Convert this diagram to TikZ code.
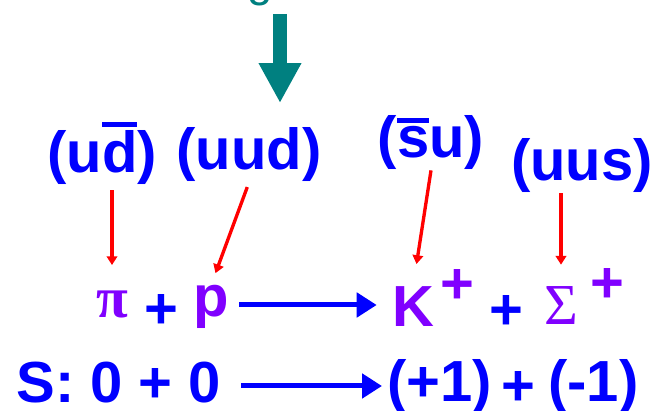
\documentclass[tikz,border=0pt]{standalone}
\usepackage{fontspec}
\setsansfont{Liberation Sans}
\newfontfamily\greekfont{Liberation Serif}
\usetikzlibrary{arrows.meta}
\definecolor{qblue}{RGB}{0,0,255}
\definecolor{qpurple}{RGB}{128,0,255}
\definecolor{qteal}{RGB}{0,128,128}
\definecolor{qred}{RGB}{255,0,0}
\newcommand{\qbar}[1]{\leavevmode\vbox{\hrule height 2.8pt\kern 2.3pt\hbox{#1}}}

\begin{document}
\begin{tikzpicture}[
    x=0.02cm, y=-0.02cm,
    lbl/.style={inner sep=0pt, anchor=base, font=\fontsize{33}{36}\selectfont\sffamily\bfseries},
    quark/.style={lbl, text=qblue},
    part/.style={lbl, text=qpurple},
    grk/.style={inner sep=0pt, anchor=base, text=qpurple, font=\fontsize{33}{36}\selectfont\greekfont},
    redarr/.style={-{Triangle[length=5pt,width=6pt]}, line width=1.9pt, draw=qred},
    bluearr/.style={-{Triangle[length=0.4cm,width=0.48cm]}, line width=0.1cm, draw=qblue},
    tealarr/.style={-{Triangle[length=0.8cm,width=0.8cm]}, line width=0.28cm, draw=qteal}
]
\useasboundingbox (0,0) rectangle (656,411);
\clip (0,0) rectangle (656,411);

\node[inner sep=0pt, anchor=base, text=qteal, font=\fontsize{26}{30}\selectfont\sffamily] (top) at (260,-3) {g};
\coordinate (tealtip) at (280,103);
\draw[tealarr] (top.south -| tealtip) ++(0,7) -- (tealtip);

\node[quark] (ud) at (102,173) {(u\qbar{d})};
\node[quark] (uud) at (249,170) {(uud)};
\node[quark] (su) at (431,158) {(\qbar{s}u)};
\node[quark] (uus) at (582,181) {(uus)};

\node[grk, font=\fontsize{33}{36}\selectfont\greekfont\bfseries] (pi) at (112,318) {π};
\node[quark] (plusa) at (161,329) {+};
\node[part] (p) at (211,317) {p};
\node[part] (K) at (413,327) {K};
\node[part] (Kch) at (457,304) {+};
\node[quark] (plusb) at (506,330) {+};
\node[grk] (Sig) at (561,325) {Σ};
\node[part] (Sigch) at (607,303) {+};

\node[quark, anchor=base west] (szero) at (16,403) {S: 0 + 0};
\node[quark, anchor=base west] (plusone) at (387,402) {(+1)};
\node[quark] (plusc) at (518,406) {+};
\node[quark, anchor=base west] (minusone) at (548,402) {(-1)};

\draw[redarr, shorten <=0.1cm, shorten >=0.52cm] (ud.south -| pi.north) -- (pi.north);
\draw[redarr, shorten <=0.1cm, shorten >=0.26cm] (uud.south) -- (p.north);
\draw[redarr, shorten >=0.46cm] (su.south) -- (K.north);
\draw[redarr, shorten >=0.44cm] (uus.south -| Sig.north) -- (Sig.north);

\coordinate (rowa) at (0,305);
\coordinate (rowb) at (0,386);
\draw[bluearr, shorten <=0.2cm, shorten >=0.3cm] (p.east |- rowa) -- (K.west |- rowa);
\draw[bluearr, shorten <=0.4cm, shorten >=0.1cm] (szero.east |- rowb) -- (plusone.west |- rowb);
\end{tikzpicture}
\end{document}
